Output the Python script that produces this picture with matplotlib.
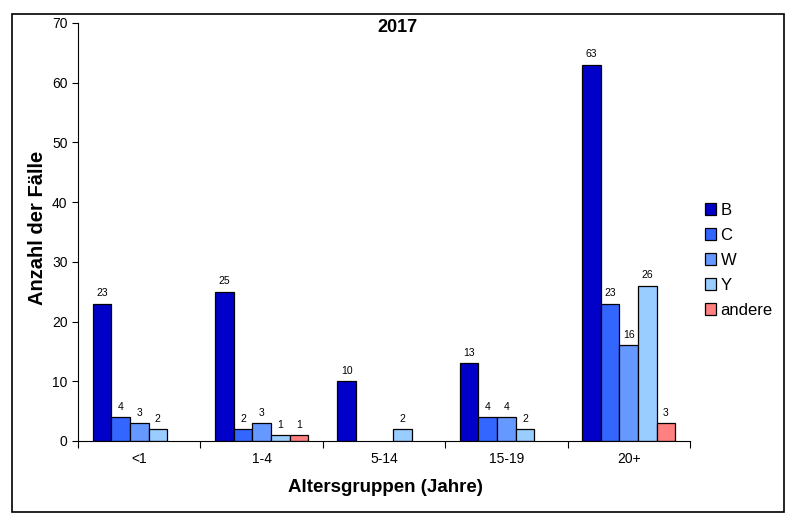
import matplotlib
matplotlib.use("Agg")
import matplotlib.pyplot as plt
import numpy as np
from matplotlib.patches import Rectangle
from matplotlib.ticker import FixedLocator, NullFormatter

categories = ["<1", "1-4", "5-14", "15-19", "20+"]
series_names = ["B", "C", "W", "Y", "andere"]
B = [23, 25, 10, 13, 63]
C = [4, 2, 0, 4, 23]
W = [3, 3, 0, 4, 16]
Y = [2, 1, 2, 2, 26]
andere = [0, 1, 0, 0, 3]
values = [B, C, W, Y, andere]
colors = ["#0000C8", "#3366FF", "#6699FF", "#99CCFF", "#FF8080"]
yticks = [0, 10, 20, 30, 40, 50, 60, 70]

plt.rcParams['font.family'] = ['Liberation Sans', 'DejaVu Sans']

fig = plt.figure(figsize=(8, 5.3), dpi=100)
fig.patches.append(Rectangle((12/800, 1-512/530), (784-12)/800, (512-14)/530,
                             transform=fig.transFigure, fill=False, edgecolor='black', linewidth=1.2))
ax = fig.add_axes([78/800, 1-441/530, (690-78)/800, (441-23)/530])

x = np.arange(len(categories))
w = 0.152
for i, (name, vals, col) in enumerate(zip(series_names, values, colors)):
    pos = x + (i - 2) * w
    vals_arr = np.array(vals, dtype=float)
    plot_vals = np.where(vals_arr > 0, vals_arr, np.nan)
    ax.bar(pos, plot_vals, width=w, color=col, edgecolor='black', linewidth=0.9, label=name)
    for p, v in zip(pos, vals):
        if v > 0:
            ax.text(p, v + 0.9, str(v), ha='center', va='bottom', fontsize=7.5)

ax.set_xlim(-0.5, len(categories) - 0.5)
ax.set_ylim(0, 70)
ax.set_yticks(yticks)
ax.tick_params(axis='y', labelsize=10, direction='out', length=4)
ax.xaxis.set_major_locator(FixedLocator(np.arange(-0.5, len(categories), 1.0)))
ax.xaxis.set_major_formatter(NullFormatter())
ax.xaxis.set_minor_locator(FixedLocator(x))
ax.set_xticklabels(categories, minor=True)
ax.tick_params(axis='x', which='minor', length=0, labelsize=10, pad=8)
ax.tick_params(axis='x', which='major', length=5, direction='out')
for s in ['top', 'right']:
    ax.spines[s].set_visible(False)

fig.text(397/800, 1-28/530, "2017", ha='center', va='center', fontsize=13, fontweight='bold')
fig.text(385/800, 1-488/530, "Altersgruppen (Jahre)", ha='center', va='center', fontsize=13.5, fontweight='bold')
fig.text(38/800, 1-228/530, "Anzahl der Fälle", ha='center', va='center', rotation=90, fontsize=14.5, fontweight='bold')

leg = ax.legend(loc='upper left', bbox_to_anchor=(698/800, 1-196/530), bbox_transform=fig.transFigure,
                frameon=False, fontsize=12, handlelength=0.65, handleheight=0.7, handletextpad=0.3,
                labelspacing=0.6, borderaxespad=0)

fig.savefig("out.png", dpi=100)
